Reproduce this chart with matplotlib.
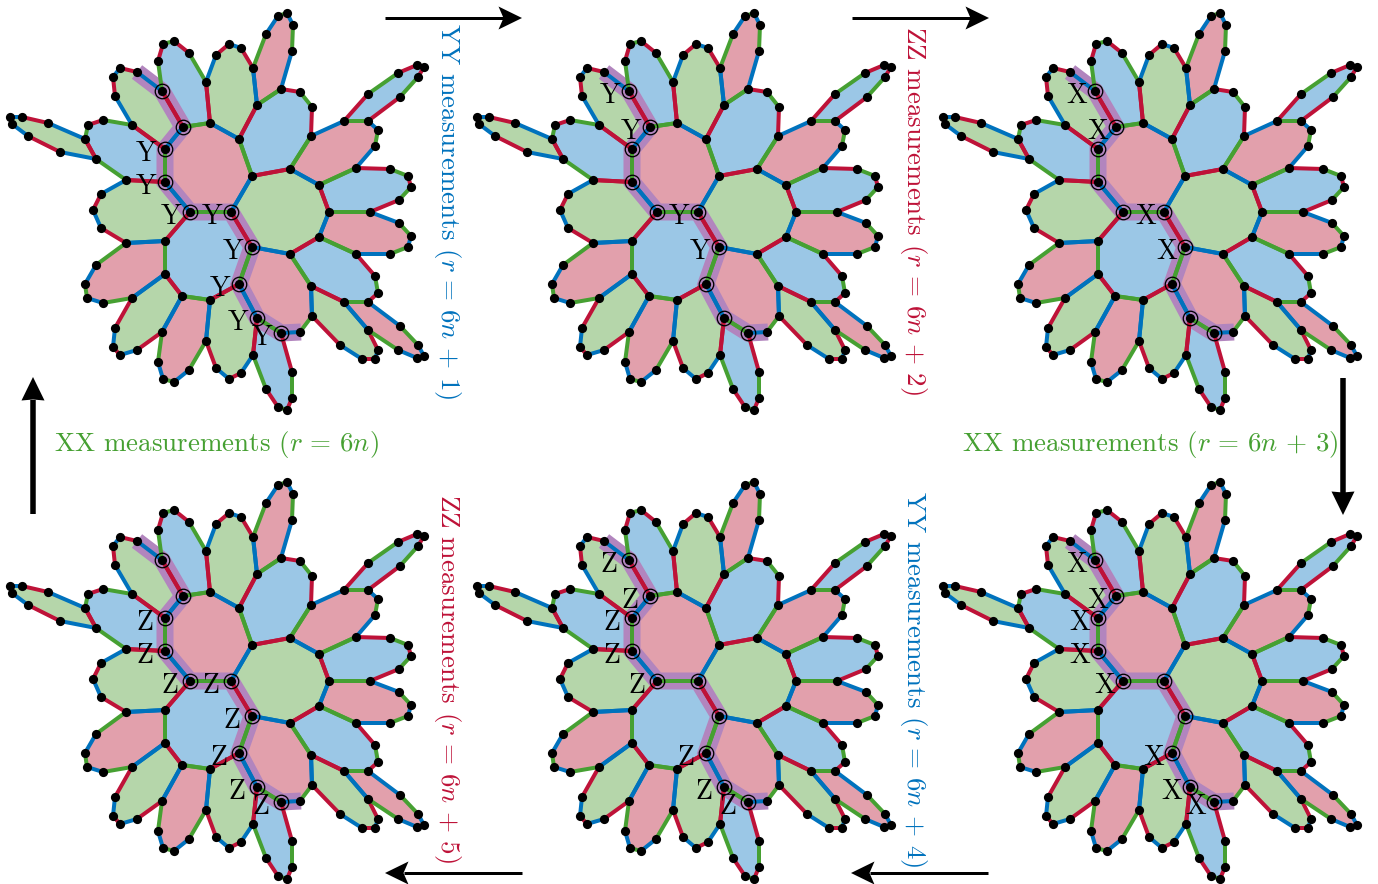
"""
Six-panel measurement schedule on a colour code patch.
Patch geometry is read off the picture, in image pixels of the top-left panel.
"""

import numpy as np
import matplotlib
matplotlib.use("Agg")
import matplotlib.pyplot as plt

plt.rcParams['font.family'] = ['cmr10', 'DejaVu Serif']
plt.rcParams['mathtext.fontset'] = 'cm'
plt.rcParams['axes.formatter.use_mathtext'] = True

BLUE = "#0072BD"
RED = "#BE1238"
GREEN = "#46A032"
FILL_B = "#9BC7E6"
FILL_R = "#E2A0AC"
FILL_G = "#B5D6AA"
PURPLE = "#B285BE"

# faces: vertex ring, fill colour, colour of first edge, colour of second edge
spike_w = [(10, 117), (22, 117), (48, 123), (85, 139), (96, 159), (60, 152), (28, 136), (12, 124)]
face_nw1 = [(85, 139), (88, 125), (103, 120), (132, 125), (165, 149), (165, 182), (126, 180), (96, 159)]
face_nw2 = [(132, 125), (115, 96), (113, 77), (120, 68), (137, 72), (162, 91), (183, 127), (165, 149)]
face_n1 = [(162, 91), (158, 61), (163, 44), (174, 41), (189, 53), (206, 82), (210, 123), (183, 127)]
face_n2 = [(206, 82), (216, 55), (229, 44), (241, 48), (253, 68), (257, 105), (239, 139), (210, 123)]
spike_n = [(253, 68), (266, 34), (278, 16), (287, 13), (293, 25), (292, 51), (281, 89), (257, 105)]
face_ne = [(257, 105), (281, 89), (300, 92), (312, 107), (311, 136), (290, 169), (252, 176), (239, 139)]
centre_r = [(183, 127), (210, 123), (239, 139), (252, 176), (231, 212), (190, 212), (165, 182), (165, 149)]
centre_g = [(252, 176), (290, 169), (319, 185), (329, 212), (319, 237), (290, 254), (252, 247), (231, 212)]
centre_b = [(190, 212), (231, 212), (252, 247), (239, 284), (210, 300), (182, 296), (165, 274), (165, 241)]
face_e1 = [(311, 136), (344, 121), (368, 121), (378, 130), (375, 146), (356, 168), (319, 185), (290, 169)]
spike_ne = [(344, 121), (368, 94), (398, 73), (417, 65), (424, 67), (418, 77), (400, 97), (368, 121)]
face_e2 = [(319, 185), (356, 168), (390, 169), (408, 176), (411, 187), (399, 200), (370, 212), (329, 212)]
face_e3 = [(329, 212), (370, 212), (399, 223), (411, 236), (408, 247), (390, 254), (356, 254), (319, 237)]
face_se1 = [(290, 254), (319, 237), (356, 254), (375, 276), (378, 293), (368, 302), (344, 302), (311, 286)]
face_se2 = [(311, 286), (344, 302), (368, 330), (378, 350), (375, 359), (362, 359), (340, 345), (312, 316)]
spike_se = [(344, 302), (368, 302), (400, 326), (418, 345), (424, 356), (417, 358), (398, 350), (368, 330)]
face_s1 = [(252, 247), (290, 254), (311, 286), (312, 316), (300, 332), (281, 333), (257, 318), (239, 284)]
spike_s = [(281, 333), (292, 372), (292, 398), (287, 410), (278, 407), (266, 389), (253, 355), (257, 318)]
face_s2 = [(239, 284), (257, 318), (253, 355), (241, 373), (229, 379), (216, 368), (206, 341), (210, 300)]
face_s3 = [(182, 296), (210, 300), (206, 341), (189, 370), (174, 382), (163, 379), (158, 362), (162, 332)]
face_sw1 = [(165, 274), (182, 296), (162, 332), (137, 350), (120, 355), (113, 347), (115, 328), (132, 298)]
face_sw2 = [(126, 243), (165, 241), (165, 274), (132, 298), (103, 303), (87, 298), (85, 284), (96, 265)]
face_w = [(126, 180), (165, 182), (190, 212), (165, 241), (126, 243), (101, 228), (93, 210), (101, 194)]

faces = [
    (spike_w, FILL_G, BLUE, RED),
    (face_nw1, FILL_B, GREEN, RED),
    (face_nw2, FILL_G, BLUE, RED),
    (face_n1, FILL_B, GREEN, RED),
    (face_n2, FILL_G, BLUE, RED),
    (spike_n, FILL_R, GREEN, BLUE),
    (face_ne, FILL_B, GREEN, RED),
    (centre_r, FILL_R, GREEN, BLUE),
    (centre_g, FILL_G, RED, BLUE),
    (centre_b, FILL_B, GREEN, RED),
    (face_e1, FILL_R, BLUE, GREEN),
    (spike_ne, FILL_B, RED, GREEN),
    (face_e2, FILL_B, GREEN, RED),
    (face_e3, FILL_R, GREEN, BLUE),
    (face_se1, FILL_B, RED, GREEN),
    (face_se2, FILL_G, RED, BLUE),
    (spike_se, FILL_R, GREEN, BLUE),
    (face_s1, FILL_R, BLUE, GREEN),
    (spike_s, FILL_B, RED, GREEN),
    (face_s2, FILL_G, BLUE, RED),
    (face_s3, FILL_R, GREEN, BLUE),
    (face_sw1, FILL_G, RED, BLUE),
    (face_sw2, FILL_R, BLUE, GREEN),
    (face_w, FILL_G, RED, BLUE),
]

# measured qubits, and the purple string through them
ringed = [(162, 91), (183, 127), (165, 149), (165, 182), (190, 212), (231, 212),
          (252, 247), (239, 284), (257, 318), (281, 333)]
string_path = [(137, 72)] + ringed + [(301, 332)]

# panel offset, pauli letter, which ringed qubits carry it
panel_dx = [0, 467, 933, 0, 467, 933]
panel_dy = [0, 0, 0, 469, 469, 469]
panel_letter = ["Y", "Y", "X", "Z", "Z", "X"]
panel_labelled = [
    [2, 3, 4, 5, 6, 7, 8, 9],
    [0, 1, 5, 6],
    [0, 1, 5, 6],
    [2, 3, 4, 5, 6, 7, 8, 9],
    [0, 1, 2, 3, 4, 7, 8, 9],
    [0, 1, 2, 3, 4, 7, 8, 9],
]

captions = [
    (r"YY measurements ($r\,=\,6n\,+\,1$)", 447, 211, -90, BLUE),
    (r"ZZ measurements ($r\,=\,6n\,+\,2$)", 914, 211, -90, RED),
    (r"ZZ measurements ($r\,=\,6n\,+\,5$)", 447, 679, -90, RED),
    (r"YY measurements ($r\,=\,6n\,+\,4$)", 914, 679, -90, BLUE),
    (r"XX measurements ($r\,=\,6n$)", 216, 445, 0, GREEN),
    (r"XX measurements ($r\,=\,6n\,+\,3$)", 1150, 445, 0, GREEN),
]

# start, tip, shaft width in px
arrows = [
    ((385, 18), (522, 18), 3),
    ((852, 18), (989, 18), 3),
    ((522, 873), (385, 873), 3),
    ((988, 873), (851, 873), 3),
    ((33, 514), (33, 377), 5.5),
    ((1343, 378), (1343, 515), 5.5),
]

PX = 72 / 100  # points per pixel at dpi 100


def draw_panel(ax, dx, dy, letter, labelled):
    for verts, fill, _, _ in faces:
        pts = np.array(verts) + (dx, dy)
        ax.fill(pts[:, 0], pts[:, 1], color=fill, lw=0, zorder=1)

    path = np.array(string_path) + (dx, dy)
    ax.plot(path[:, 0], path[:, 1], color=PURPLE, lw=17 * PX, zorder=2,
            solid_capstyle='butt', solid_joinstyle='miter')

    seen = set()
    for verts, _, c1, c2 in faces:
        seen.update(verts)
        pts = np.array(verts) + (dx, dy)
        for i in range(len(pts)):
            a, b = pts[i], pts[(i + 1) % len(pts)]
            ax.plot([a[0], b[0]], [a[1], b[1]], color=c1 if i % 2 == 0 else c2,
                    lw=4 * PX, zorder=3, solid_capstyle='butt')

    dots = np.array(sorted(seen)) + (dx, dy)
    ax.plot(dots[:, 0], dots[:, 1], 'o', color='black', ms=9.2 * PX, mew=0, zorder=4)

    rings = np.array(ringed) + (dx, dy)
    ax.plot(rings[:, 0], rings[:, 1], 'o', mfc='none', mec='black', ms=14.5 * PX,
            mew=1.3 * PX, zorder=5)

    shift = -20 if letter == "Z" else -18.5
    for i in labelled:
        ax.text(rings[i, 0] + shift, rings[i, 1] + 5, letter, fontsize=20,
                ha='center', va='center', color='black', zorder=6)


def draw_arrow(ax, start, tip, width):
    start, tip = np.array(start, float), np.array(tip, float)
    u = (tip - start) / np.linalg.norm(tip - start)
    n = np.array([-u[1], u[0]])
    notch = 5 if width < 4 else 1
    base = tip - 23.5 * u
    neck = base + notch * u
    ax.plot([start[0], neck[0]], [start[1], neck[1]], color='black', lw=width * PX,
            solid_capstyle='butt', zorder=7)
    head = np.array([tip, base + 11.5 * n, neck, base - 11.5 * n])
    ax.fill(head[:, 0], head[:, 1], color='black', lw=0, zorder=7)


fig = plt.figure(figsize=(13.78, 8.84), dpi=100)
ax = fig.add_axes([0, 0, 1, 1])
ax.set_xlim(0, 1378)
ax.set_ylim(884, 0)
ax.axis('off')

for dx, dy, letter, labelled in zip(panel_dx, panel_dy, panel_letter, panel_labelled):
    draw_panel(ax, dx, dy, letter, labelled)

for text, x, y, rot, col in captions:
    ax.text(x, y, text, rotation=rot, color=col, fontsize=19.4, ha='center', va='center')

for start, tip, width in arrows:
    draw_arrow(ax, start, tip, width)

fig.savefig("out.png", dpi=100)
